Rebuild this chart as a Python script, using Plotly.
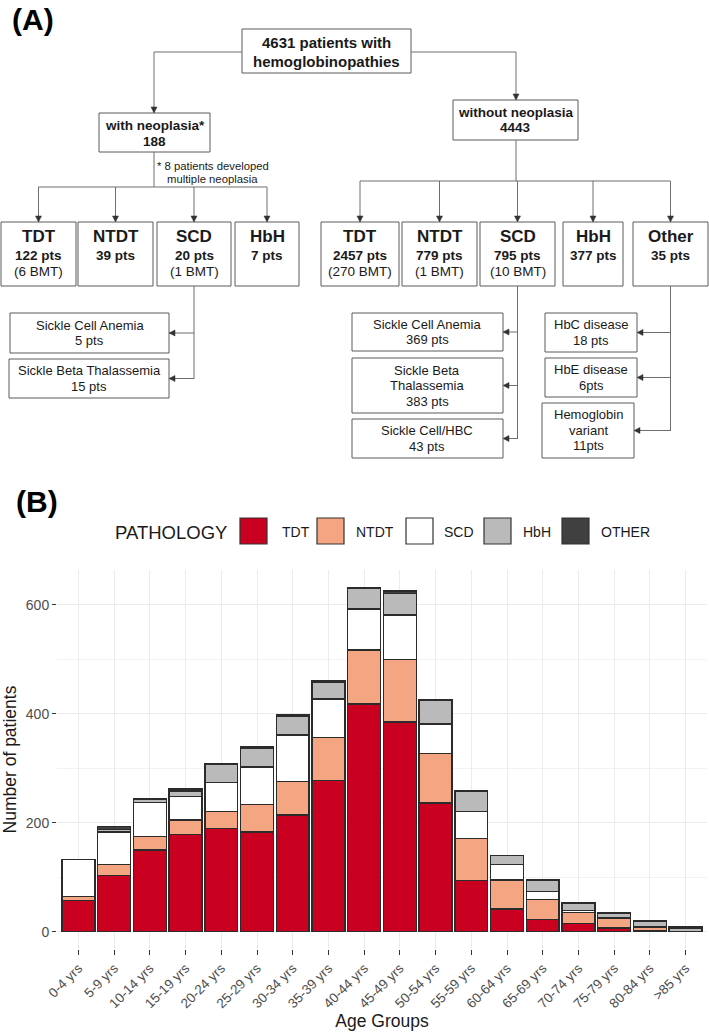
import plotly.graph_objects as go

# ---------------- DATA ----------------
age_groups = ["0-4 yrs", "5-9 yrs", "10-14 yrs", "15-19 yrs", "20-24 yrs", "25-29 yrs",
              "30-34 yrs", "35-39 yrs", "40-44 yrs", "45-49 yrs", "50-54 yrs", "55-59 yrs",
              "60-64 yrs", "65-69 yrs", "70-74 yrs", "75-79 yrs", "80-84 yrs", ">85 yrs"]
tdt = [58, 103, 150, 179, 190, 183, 214, 278, 418, 385, 236, 94, 42, 22, 15, 7, 2, 0]
ntdt = [7, 20, 25, 26, 30, 51, 62, 79, 99, 114, 91, 77, 53, 37, 21, 18, 6, 0]
scd = [67, 60, 62, 43, 54, 68, 85, 70, 75, 82, 54, 49, 28, 15, 3, 1, 1, 0]
hbh = [0, 4, 5, 10, 33, 35, 35, 31, 38, 40, 43, 38, 17, 21, 13, 8, 11, 7]
other = [0, 6, 3, 4, 2, 2, 3, 3, 2, 4, 1, 0, 0, 0, 1, 2, 0, 2]

series_names = ["TDT", "NTDT", "SCD", "HbH", "OTHER"]
series_values = [tdt, ntdt, scd, hbh, other]
series_colors = ["#CA0020", "#F4A582", "#FFFFFF", "#BABABA", "#404040"]

y_ticks = [0, 200, 400, 600]

# Flowchart text
top_label = ["4631 patients with", "hemoglobinopathies"]
neo_label = ["with neoplasia*", "188"]
neo_note = ["* 8 patients developed", "multiple neoplasia"]
noneo_label = ["without neoplasia", "4443"]
left_names = ["TDT", "NTDT", "SCD", "HbH"]
left_pts = ["122 pts", "39 pts", "20 pts", "7 pts"]
left_bmt = ["(6 BMT)", "", "(1 BMT)", ""]
right_names = ["TDT", "NTDT", "SCD", "HbH", "Other"]
right_pts = ["2457 pts", "779 pts", "795 pts", "377 pts", "35 pts"]
right_bmt = ["(270 BMT)", "(1 BMT)", "(10 BMT)", "", ""]
left_scd_sub = [["Sickle Cell Anemia", "5 pts"], ["Sickle Beta Thalassemia", "15 pts"]]
right_scd_sub = [["Sickle Cell Anemia", "369 pts"], ["Sickle Beta", "Thalassemia", "383 pts"],
                 ["Sickle Cell/HBC", "43 pts"]]
other_sub = [["HbC disease", "18 pts"], ["HbE disease", "6pts"], ["Hemoglobin", "variant", "11pts"]]

# ---------------- HELPERS ----------------
W, H = 709, 1036
FONT = "Liberation Sans, Arial, sans-serif"
TXT = "#1a1a1a"
LINE = "#6e6e6e"


def px(x):
    return x / W


def py(y):
    return 1 - y / H


shapes = []
ann = []


def box(x0, y0, x1, y1):
    shapes.append(dict(type="rect", xref="paper", yref="paper", x0=px(x0), x1=px(x1),
                       y0=py(y1), y1=py(y0), line=dict(color="#5a5a5a", width=1),
                       fillcolor="white", layer="above"))


def polyline(pts):
    p = "M " + " L ".join(f"{px(x):.5f},{py(y):.5f}" for x, y in pts)
    shapes.append(dict(type="path", path=p, xref="paper", yref="paper",
                       line=dict(color=LINE, width=1), layer="above"))


def arrow(x, y, d):
    if d == "down":
        pts = [(x - 3, y - 6), (x + 3, y - 6), (x, y)]
    else:  # left
        pts = [(x + 6, y - 3), (x + 6, y + 3), (x, y)]
    p = "M " + " L ".join(f"{px(a):.5f},{py(b):.5f}" for a, b in pts) + " Z"
    shapes.append(dict(type="path", path=p, xref="paper", yref="paper",
                       line=dict(color="#333", width=0.5), fillcolor="#333", layer="above"))


def text(x, y, s, size, bold=False, color=TXT, xanchor="center"):
    ann.append(dict(x=px(x), y=py(y), xref="paper", yref="paper",
                    text=f"<b>{s}</b>" if bold else s, showarrow=False,
                    font=dict(size=size, family=FONT, color=color),
                    xanchor=xanchor, yanchor="middle"))


def box_lines(x0, y0, x1, y1, lines, size=13, spacing=15.5):
    box(x0, y0, x1, y1)
    cy = (y0 + y1) / 2
    n = len(lines)
    for i, s in enumerate(lines):
        text((x0 + x1) / 2, cy + (i - (n - 1) / 2) * spacing, s, size)


# ---------------- PANEL A ----------------
text(33, 19, "(A)", 30, bold=True, color="#000", xanchor="center")

# top box
box(242, 29, 411, 73)
text(326.5, 43, top_label[0], 15, bold=True)
text(326.5, 61, top_label[1], 15, bold=True)

# connectors from top
polyline([(242, 52), (154, 52), (154, 113)])
arrow(154, 113, "down")
polyline([(411, 52), (516, 52), (516, 100)])
arrow(516, 100, "down")

# with neoplasia
box(99, 113, 210, 152)
text(154.5, 126, neo_label[0], 13.5, bold=True)
text(154.5, 141, neo_label[1], 13.5, bold=True)
text(213, 166, neo_note[0], 11.3)
text(213, 179, neo_note[1], 11.3)

# without neoplasia
box(453, 100, 578, 140)
text(515.5, 113, noneo_label[0], 13.5, bold=True)
text(515.5, 128, noneo_label[1], 13.5, bold=True)

# left tier
left_boxes = [(1, 76), (78, 153), (157, 231), (235, 299)]
left_arrows = [38.5, 115.5, 194, 267]
polyline([(154, 152), (154, 187)])
polyline([(left_arrows[0], 187), (left_arrows[-1], 187)])
for i, (x0, x1) in enumerate(left_boxes):
    ax = left_arrows[i]
    polyline([(ax, 187), (ax, 222)])
    arrow(ax, 222, "down")
    box(x0, 222, x1, 286)
    cx = (x0 + x1) / 2
    text(cx, 236, left_names[i], 17, bold=True)
    text(cx, 255, left_pts[i], 13.5, bold=True)
    if left_bmt[i]:
        text(cx, 271, left_bmt[i], 13.5)

# right tier
right_boxes = [(321, 399), (402, 477), (480, 555), (563, 623), (633, 708)]
right_arrows = [360, 439.5, 517.5, 593, 670.5]
polyline([(516, 140), (516, 181)])
polyline([(right_arrows[0], 181), (right_arrows[-1], 181)])
for i, (x0, x1) in enumerate(right_boxes):
    ax = right_arrows[i]
    polyline([(ax, 181), (ax, 222)])
    arrow(ax, 222, "down")
    box(x0, 222, x1, 286)
    cx = (x0 + x1) / 2
    text(cx, 236, right_names[i], 17, bold=True)
    text(cx, 255, right_pts[i], 13.5, bold=True)
    if right_bmt[i]:
        text(cx, 271, right_bmt[i], 13.5)

# left SCD subtypes
l_sub_boxes = [(10, 313, 169, 353), (9, 359, 169, 398)]
polyline([(194, 286), (194, 379)])
for b, lines in zip(l_sub_boxes, left_scd_sub):
    yc = (b[1] + b[3]) / 2
    polyline([(194, yc), (b[2], yc)])
    arrow(b[2], yc, "left")
    box_lines(*b, lines)

# right SCD subtypes
r_sub_boxes = [(352, 313, 503, 351), (352, 358, 503, 413), (352, 419, 503, 458)]
polyline([(517.5, 286), (517.5, 439)])
for b, lines in zip(r_sub_boxes, right_scd_sub):
    yc = (b[1] + b[3]) / 2
    polyline([(517.5, yc), (b[2], yc)])
    arrow(b[2], yc, "left")
    box_lines(*b, lines)

# other subtypes
o_sub_boxes = [(545, 313, 637, 352), (545, 358, 637, 397), (542, 403, 634, 458)]
polyline([(670.5, 286), (670.5, 431)])
for b, lines in zip(o_sub_boxes, other_sub):
    yc = (b[1] + b[3]) / 2
    polyline([(670.5, yc), (b[2], yc)])
    arrow(b[2], yc, "left")
    box_lines(*b, lines)

# ---------------- PANEL B ----------------
text(37, 501, "(B)", 30, bold=True, color="#000")

# custom legend
text(113, 532, "PATHOLOGY", 18.5, color="#1a1a1a", xanchor="left")
sw_x = [240, 317, 406, 484, 562]
lab_x = [280, 354, 442, 521, 599]
for name, col, sx, lx in zip(series_names, series_colors, sw_x, lab_x):
    shapes.append(dict(type="rect", xref="paper", yref="paper", x0=px(sx), x1=px(sx + 27),
                       y0=py(544), y1=py(518), line=dict(color="#333", width=1.2),
                       fillcolor=col, layer="above"))
    text(lx, 532, name, 14, color="#1a1a1a", xanchor="left")

fig = go.Figure()
for name, vals, col in zip(series_names, series_values, series_colors):
    fig.add_trace(go.Bar(x=age_groups, y=vals, name=name,
                         marker=dict(color=col, line=dict(color="#2b2b2b", width=1.3)),
                         showlegend=False))

ymax = max(a + b + c + d + e for a, b, c, d, e in zip(tdt, ntdt, scd, hbh, other))
pad = ymax * 0.05

fig.update_layout(
    width=W, height=H, margin=dict(l=0, r=0, t=0, b=0, autoexpand=False),
    paper_bgcolor="white", plot_bgcolor="white",
    barmode="stack", bargap=0.08,
    shapes=shapes, annotations=ann,
    font=dict(family=FONT),
    xaxis=dict(domain=[px(57), px(707)], range=[-0.6, len(age_groups) - 0.4],
               type="category", showgrid=True, gridcolor="#EBEBEB", gridwidth=1,
               ticks="outside", ticklen=5, tickcolor="#333", tickwidth=1,
               tickangle=-45, tickfont=dict(size=13.5, color="#4D4D4D", family=FONT),
               showline=False, zeroline=False, automargin=False,
               title=dict(text="Age Groups", font=dict(size=17.5, color="#1a1a1a", family=FONT),
                          standoff=4)),
    yaxis=dict(domain=[py(949), py(570)], range=[-pad, ymax + pad],
               tickvals=y_ticks, showgrid=True, gridcolor="#EBEBEB", gridwidth=1,
               minor=dict(dtick=100, showgrid=True, gridcolor="#F2F2F2", gridwidth=0.6),
               ticks="outside", ticklen=4, tickcolor="#333", tickwidth=1,
               tickfont=dict(size=14, color="#4D4D4D", family=FONT),
               showline=False, zeroline=False, automargin=False,
               title=dict(text="Number of patients", font=dict(size=17.5, color="#1a1a1a", family=FONT),
                          standoff=6)),
)

fig.write_html("out.html", config={"displayModeBar": False},
               post_script="document.body.style.margin='0';document.body.style.overflow='hidden';")
